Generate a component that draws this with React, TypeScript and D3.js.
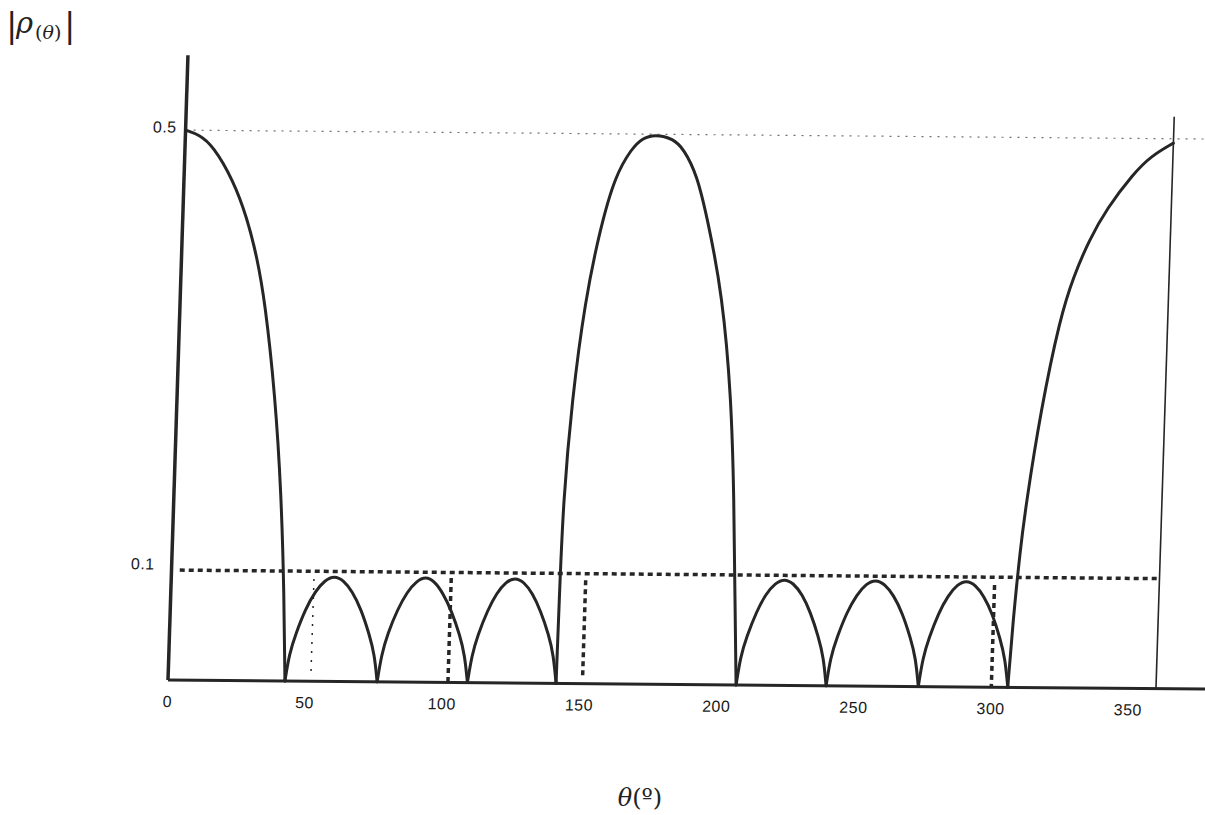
import React, { useRef, useEffect } from 'react';
import * as d3 from 'd3';

// |rho(theta)|, lobe by lobe (zeros split the lobes)
const theta = [
  0, 5, 10.2, 17.9, 23.4, 27.5, 30.9, 35.7, 39.1, 41.3, 42.6,
  43.9, 46.0, 49.3, 52.7, 56.0, 59.4, 62.8, 66.1, 69.5, 72.8, 74.9, 76.2,
  77.5, 79.5, 82.8, 86.1, 89.4, 92.7, 95.9, 99.2, 102.5, 105.8, 107.8, 109.1,
  110.4, 112.3, 115.6, 118.8, 122.0, 125.3, 128.5, 131.7, 134.9, 138.2, 140.1, 141.4,
  141.6, 141.9, 143.9, 147.5, 152.2, 157.0, 162.8, 166.3, 171.1, 177.8, 181.6, 186.8, 191.5, 197.4, 201.9, 204.1, 205.6, 207.0,
  208.3, 210.3, 213.6, 216.8, 220.1, 223.4, 226.7, 230.0, 233.2, 236.5, 238.5, 239.8,
  241.1, 243.2, 246.5, 249.9, 253.2, 256.6, 260.0, 263.3, 266.7, 270.0, 272.1, 273.4,
  274.7, 276.7, 279.9, 283.2, 286.4, 289.7, 293.0, 296.2, 299.5, 302.7, 304.7, 306.0,
  307.2, 308.9, 310.5, 314.8, 320.8, 325.2, 330.4, 336.5, 345.8, 352, 360,
];
const rho = [
  0.5, 0.496, 0.486, 0.455, 0.421, 0.385, 0.345, 0.260, 0.170, 0.078, 0,
  0.025, 0.043, 0.066, 0.082, 0.092, 0.096, 0.092, 0.082, 0.066, 0.043, 0.025, 0,
  0.025, 0.044, 0.066, 0.082, 0.092, 0.096, 0.092, 0.081, 0.065, 0.043, 0.025, 0,
  0.025, 0.043, 0.066, 0.082, 0.092, 0.096, 0.092, 0.082, 0.066, 0.044, 0.026, 0,
  0.075, 0.166, 0.257, 0.348, 0.414, 0.462, 0.487, 0.496, 0.500, 0.496, 0.487, 0.464, 0.420, 0.355, 0.262, 0.168, 0.077, 0,
  0.026, 0.044, 0.067, 0.083, 0.093, 0.097, 0.093, 0.083, 0.067, 0.044, 0.026, 0,
  0.026, 0.044, 0.067, 0.083, 0.093, 0.097, 0.093, 0.083, 0.067, 0.044, 0.026, 0,
  0.026, 0.044, 0.067, 0.083, 0.093, 0.097, 0.093, 0.083, 0.067, 0.044, 0.026, 0,
  0.063, 0.124, 0.166, 0.252, 0.337, 0.374, 0.407, 0.436, 0.468, 0.484, 0.496,
];

const xTicks = [0, 50, 100, 150, 200, 250, 300, 350];
const yTicks = [0.1, 0.5];

// dotted drop lines from the 0.1 level
const guideTheta = [52, 102, 151, 300];
const guideTop = [0.093, 0.095, 0.094, 0.093];
const guideBottom = [0.007, 0, 0.007, 0];
const guideHeavy = [false, true, true, true];

const App = () => {
  const svgRef = useRef(null);

  useEffect(() => {
    const svg = d3.select(svgRef.current);
    svg.selectAll('*').remove();

    const ink = '#262626';
    const tickFont = 'Liberation Sans, Arial, sans-serif';
    const mathFont = 'DejaVu Serif, Liberation Serif, serif';

    const x = d3.scaleLinear().domain([0, 360]).range([0, 988]);
    const y = d3.scaleLinear().domain([0, 0.5]).range([0, -550]);

    // the scanned page is a little rotated and sheared
    const g = svg.append('g')
      .attr('transform', 'translate(168,680) rotate(0.5) skewX(-1.33)');

    // reference level 0.5
    g.append('line')
      .attr('x1', x(0)).attr('x2', x(382))
      .attr('y1', y(0.5)).attr('y2', y(0.5))
      .attr('stroke', '#707070').attr('stroke-width', 1.2)
      .attr('stroke-dasharray', '2,6');

    // reference level 0.1
    g.append('line')
      .attr('x1', x(3)).attr('x2', x(360))
      .attr('y1', y(0.1)).attr('y2', y(0.1))
      .attr('stroke', ink).attr('stroke-width', 3.5)
      .attr('stroke-dasharray', '5,4');

    g.selectAll('.guide')
      .data(guideTheta)
      .enter().append('line')
      .attr('class', 'guide')
      .attr('x1', d => x(d)).attr('x2', d => x(d))
      .attr('y1', (d, i) => y(guideTop[i]))
      .attr('y2', (d, i) => y(guideBottom[i]))
      .attr('stroke', ink)
      .attr('stroke-width', (d, i) => guideHeavy[i] ? 3.5 : 1.5)
      .attr('stroke-dasharray', (d, i) => guideHeavy[i] ? '5,4' : '2,7');

    // axes
    g.append('line')
      .attr('x1', x(0)).attr('x2', x(0))
      .attr('y1', y(0)).attr('y2', y(0.568))
      .attr('stroke', ink).attr('stroke-width', 3.5);

    g.append('line')
      .attr('x1', x(0)).attr('x2', x(382))
      .attr('y1', y(0)).attr('y2', y(0))
      .attr('stroke', ink).attr('stroke-width', 3);

    g.append('line')
      .attr('x1', x(360)).attr('x2', x(360))
      .attr('y1', y(0)).attr('y2', y(0.52))
      .attr('stroke', ink).attr('stroke-width', 1.6);

    // curve, drawn lobe by lobe so the zeros stay sharp cusps
    const points = theta.map((t, i) => [t, rho[i]]);
    const lobes = [];
    let current = [];
    points.forEach((p, i) => {
      current.push(p);
      if (p[1] === 0 && i > 0) {
        lobes.push(current);
        current = [p];
      }
    });
    if (current.length > 1) lobes.push(current);

    const line = d3.line()
      .x(d => x(d[0]))
      .y(d => y(d[1]))
      .curve(d3.curveBasis);

    g.selectAll('.lobe')
      .data(lobes)
      .enter().append('path')
      .attr('class', 'lobe')
      .attr('d', line)
      .attr('fill', 'none')
      .attr('stroke', ink)
      .attr('stroke-width', 3)
      .attr('stroke-linecap', 'round')
      .attr('stroke-linejoin', 'round');

    // tick labels
    g.selectAll('.xLabel')
      .data(xTicks)
      .enter().append('text')
      .attr('class', 'xLabel')
      .attr('x', d => x(d))
      .attr('y', 27)
      .attr('text-anchor', 'middle')
      .style('font-family', tickFont)
      .style('font-size', '16px')
      .style('letter-spacing', '0.5px')
      .attr('fill', '#1a1a1a')
      .text(d => d);

    g.selectAll('.yLabel')
      .data(yTicks)
      .enter().append('text')
      .attr('class', 'yLabel')
      .attr('x', d => d < 0.3 ? -17 : -9)
      .attr('y', d => y(d) - (d < 0.3 ? 6 : 3))
      .attr('dy', '0.35em')
      .attr('text-anchor', 'end')
      .style('font-family', tickFont)
      .style('font-size', '16px')
      .style('letter-spacing', '0.5px')
      .attr('fill', '#1a1a1a')
      .text(d => d);

    // y title |rho(theta)|
    const yTitle = svg.append('g').attr('fill', '#222').style('font-family', mathFont);
    yTitle.append('text').attr('x', 6).attr('y', 37).style('font-size', '34px').text('|');
    yTitle.append('text').attr('x', 16).attr('y', 33).style('font-size', '29px')
      .style('font-style', 'italic').text('ρ');
    const sub = yTitle.append('text').attr('x', 35).attr('y', 39).style('font-size', '19px');
    sub.append('tspan').text('(');
    sub.append('tspan').style('font-style', 'italic').text('θ');
    sub.append('tspan').text(')');
    yTitle.append('text').attr('x', 64).attr('y', 37).style('font-size', '34px').text('|');

    // x title theta(º)
    const xTitle = svg.append('text')
      .attr('x', 640).attr('y', 806)
      .attr('text-anchor', 'middle')
      .attr('fill', '#222')
      .style('font-family', mathFont)
      .style('font-size', '24px');
    xTitle.append('tspan').style('font-style', 'italic').text('θ');
    xTitle.append('tspan').text('(º)');
  }, []);

  return (
    <svg
      ref={svgRef}
      width={1205}
      height={815}
      style={{ position: 'absolute', left: 0, top: 0, background: '#fff' }}
    />
  );
};

export default App;
